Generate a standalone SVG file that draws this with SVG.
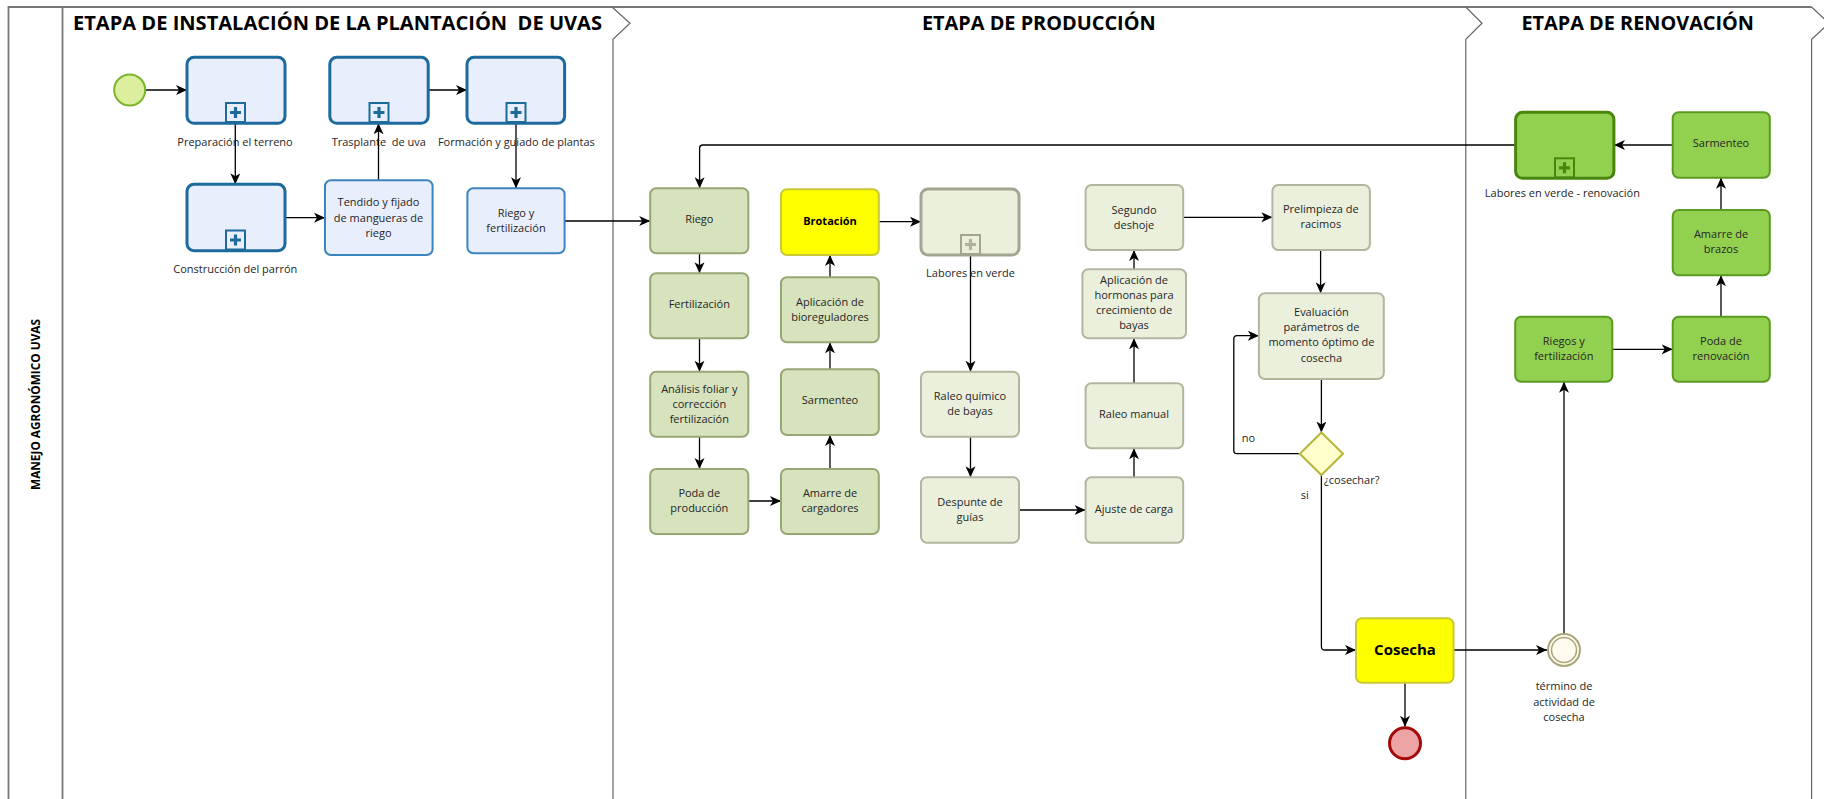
<svg xmlns="http://www.w3.org/2000/svg" width="1824" height="799" viewBox="0 0 1824 799">
<style>
text{font-family:"Open Sans","Noto Sans","Liberation Sans",sans-serif;fill:#262626;font-size:11px;text-anchor:middle}
.title{font-size:20px;font-weight:bold;fill:#000;text-anchor:start}
.pool{font-size:12px;font-weight:bold;fill:#000}
.b{font-weight:bold;fill:#000}
.lbl{text-anchor:start}
.edge{fill:none;stroke:#000;stroke-width:1.3;marker-end:url(#arr)}
.sp-blue{fill:#e9eefc;stroke:#1d6b9c;stroke-width:3}
.t-blue{fill:#e9eefc;stroke:#3c84bd;stroke-width:2}
.t-sage{fill:#d7e3bd;stroke:#98a574;stroke-width:2}
.t-lsage{fill:#ebf0dd;stroke:#b2b69e;stroke-width:2}
.sp-lsage{fill:#ebf0dd;stroke:#a2a690;stroke-width:3}
.t-yel{fill:#ffff00;stroke:#c9c934;stroke-width:2}
.t-grn{fill:#92d050;stroke:#5b9a22;stroke-width:2}
.sp-grn{fill:#92d050;stroke:#4a860e;stroke-width:3}
.lane{fill:none;stroke:#777;stroke-width:1.8}
.phase{fill:none;stroke:#666;stroke-width:1.2}
</style>
<defs>
<marker id="arr" markerUnits="userSpaceOnUse" markerWidth="12" markerHeight="11" refX="11" refY="5" orient="auto">
<path d="M0,0 L11,5 L0,10 L3,5 Z" fill="#000"/>
</marker>
<g id="mk-blue">
<rect x="-9.5" y="-19" width="19" height="19" fill="#e9eefc" stroke="#1d6b9c" stroke-width="2"/>
<path d="M0,-15 V-4 M-5.5,-9.5 H5.5" stroke="#1d6b9c" stroke-width="3.2"/>
</g>
<g id="mk-gray">
<rect x="-9.5" y="-19" width="19" height="19" fill="#ebf0dd" stroke="#a2a690" stroke-width="2"/>
<path d="M0,-15 V-4 M-5.5,-9.5 H5.5" stroke="#b0b3a0" stroke-width="3.2"/>
</g>
<g id="mk-grn">
<rect x="-9.5" y="-19" width="19" height="19" fill="#92d050" stroke="#4a860e" stroke-width="2"/>
<path d="M0,-15 V-4 M-5.5,-9.5 H5.5" stroke="#4a860e" stroke-width="3.2"/>
</g>
</defs>
<rect width="1824" height="799" fill="#fff"/>

<g id="pool">
<path class="lane" d="M8.5,799 V7 H1811.6"/>
<path class="lane" d="M62.5,7 V799"/>
<text class="pool" transform="translate(39.5,404.5) rotate(-90)" textLength="171" lengthAdjust="spacingAndGlyphs">MANEJO AGRONÓMICO UVAS</text>
</g>
<g id="phases">
<path class="phase" d="M612,7 L630,23.3 L613,39.3 V799"/>
<path class="phase" d="M1465.8,7 L1482,23.3 L1465.8,39.3 V799"/>
<path class="phase" d="M1811.6,7 L1829,23.3 L1811.6,39.3 V799"/>
<text class="title" x="73" y="29.5" textLength="529" lengthAdjust="spacingAndGlyphs" xml:space="preserve">ETAPA DE INSTALACIÓN DE LA PLANTACIÓN  DE UVAS</text>
<text class="title" x="922" y="29.5" textLength="233.6" lengthAdjust="spacingAndGlyphs">ETAPA DE PRODUCCIÓN</text>
<text class="title" x="1521.5" y="29.5" textLength="232.5" lengthAdjust="spacingAndGlyphs">ETAPA DE RENOVACIÓN</text>
</g>

<g id="connectors">
<path class="edge" d="M146,90 H187"/>
<path class="edge" d="M235.3,121 V184.3"/>
<path class="edge" d="M285,217.7 H325"/>
<path class="edge" d="M378.5,180.3 V123.3"/>
<path class="edge" d="M428.2,90 H467"/>
<path class="edge" d="M516,121 V188.3"/>
<path class="edge" d="M564.6,221 H650.2"/>
<path class="edge" d="M699.5,253.3 V273.3"/>
<path class="edge" d="M699.5,338.3 V371.7"/>
<path class="edge" d="M699.5,436.7 V469"/>
<path class="edge" d="M748.3,501 H781"/>
<path class="edge" d="M830,469 V435"/>
<path class="edge" d="M830,369.3 V342.3"/>
<path class="edge" d="M830,277.3 V255"/>
<path class="edge" d="M878.8,221.7 H921"/>
<path class="edge" d="M970.5,253 V371.7"/>
<path class="edge" d="M970.5,436.7 V477.3"/>
<path class="edge" d="M1019,510 H1085.6"/>
<path class="edge" d="M1134,477.3 V448.3"/>
<path class="edge" d="M1134,383.3 V338.3"/>
<path class="edge" d="M1134,269.3 V250"/>
<path class="edge" d="M1183.2,217.3 H1272.4"/>
<path class="edge" d="M1320.6,250 V293.3"/>
<path class="edge" d="M1321.4,379 V432.5"/>
<path class="edge" d="M1299.8,453.7 H1237 Q1233.8,453.7 1233.8,450.5 V339 Q1233.8,335.7 1237,335.7 H1258.9"/>
<path class="edge" d="M1321.4,475 V646.5 Q1321.4,650 1325,650 H1356"/>
<path class="edge" d="M1453.5,650 H1547"/>
<path class="edge" d="M1405,682.7 V726.7"/>
<path class="edge" d="M1564,633 V381.7"/>
<path class="edge" d="M1612.3,349.3 H1672.7"/>
<path class="edge" d="M1721,316.7 V275.3"/>
<path class="edge" d="M1721,210 V177.7"/>
<path class="edge" d="M1672.7,145 H1614"/>
<path class="edge" d="M1515.6,145 H703 Q699.6,145 699.6,148.5 V188.3"/>
<text class="lbl" x="1241.8" y="442.3">no</text>
<text class="lbl" x="1300.7" y="499">si</text>
</g>

<g id="start">
<circle cx="129.7" cy="90" r="15.5" fill="#dcef9e" stroke="#7ab52a" stroke-width="2"/>
</g>
<g id="preparacion">
<rect class="sp-blue" x="187" y="57.3" width="98" height="66" rx="7"/>
<use href="#mk-blue" x="235.5" y="122"/>
<text x="235" y="146">Preparación el terreno</text>
</g>
<g id="construccion">
<rect class="sp-blue" x="187" y="184.3" width="98" height="66.4" rx="7"/>
<use href="#mk-blue" x="235.5" y="249.5"/>
<text x="235.3" y="273">Construcción del parrón</text>
</g>
<g id="tendido">
<rect class="t-blue" x="325" y="180.3" width="107.6" height="74.7" rx="6"/>
<text x="378.5" y="206">Tendido y fijado</text>
<text x="378.5" y="221.5">de mangueras de</text>
<text x="378.5" y="236.5">riego</text>
</g>
<g id="trasplante">
<rect class="sp-blue" x="329.8" y="57.3" width="98.4" height="66" rx="7"/>
<use href="#mk-blue" x="379" y="122"/>
<text x="378.8" y="146" xml:space="preserve">Trasplante  de uva</text>
</g>
<g id="formacion">
<rect class="sp-blue" x="467" y="57.3" width="97.6" height="66" rx="7"/>
<use href="#mk-blue" x="516" y="122"/>
<text x="516.4" y="146">Formación y guiado de plantas</text>
</g>
<g id="riego-fert-inst">
<rect class="t-blue" x="467.4" y="188.3" width="97.2" height="65" rx="6"/>
<text x="516" y="216.7">Riego y</text>
<text x="516" y="231.7">fertilización</text>
</g>

<g id="riego">
<rect class="t-sage" x="650.2" y="188.3" width="98.1" height="65" rx="6"/>
<text x="699.3" y="223">Riego</text>
</g>
<g id="fertilizacion">
<rect class="t-sage" x="650.2" y="273.3" width="98.1" height="65" rx="6"/>
<text x="699.3" y="308.3">Fertilización</text>
</g>
<g id="analisis">
<rect class="t-sage" x="650.2" y="371.7" width="98.1" height="65" rx="6"/>
<text x="699.3" y="392.5">Análisis foliar y</text>
<text x="699.3" y="407.5">corrección</text>
<text x="699.3" y="422.5">fertilización</text>
</g>
<g id="poda-produccion">
<rect class="t-sage" x="650.2" y="469" width="98.1" height="65" rx="6"/>
<text x="699.3" y="497.3">Poda de</text>
<text x="699.3" y="512.3">producción</text>
</g>
<g id="amarre-cargadores">
<rect class="t-sage" x="781" y="469" width="97.8" height="65" rx="6"/>
<text x="830" y="497.3">Amarre de</text>
<text x="830" y="512.3">cargadores</text>
</g>
<g id="sarmenteo-prod">
<rect class="t-sage" x="781" y="369.3" width="97.8" height="65.7" rx="6"/>
<text x="830" y="404.3">Sarmenteo</text>
</g>
<g id="bioreguladores">
<rect class="t-sage" x="781" y="277.3" width="97.8" height="65" rx="6"/>
<text x="830" y="306">Aplicación de</text>
<text x="830" y="321">bioreguladores</text>
</g>
<g id="brotacion">
<rect class="t-yel" x="781" y="189.3" width="97.8" height="65.7" rx="6"/>
<text class="b" x="830" y="224.7">Brotación</text>
</g>
<g id="labores-verde">
<rect class="sp-lsage" x="921" y="189" width="98" height="66" rx="7"/>
<use href="#mk-gray" x="970.5" y="254"/>
<text x="970.5" y="277">Labores en verde</text>
</g>
<g id="raleo-quimico">
<rect class="t-lsage" x="921" y="371.7" width="98" height="65" rx="6"/>
<text x="970" y="400">Raleo químico</text>
<text x="970" y="415">de bayas</text>
</g>
<g id="despunte">
<rect class="t-lsage" x="921" y="477.3" width="98" height="65.4" rx="6"/>
<text x="970" y="506">Despunte de</text>
<text x="970" y="521">guías</text>
</g>
<g id="ajuste">
<rect class="t-lsage" x="1085.6" y="477.3" width="97.6" height="65.4" rx="6"/>
<text x="1134" y="512.7">Ajuste de carga</text>
</g>
<g id="raleo-manual">
<rect class="t-lsage" x="1085.6" y="383.3" width="97.6" height="65" rx="6"/>
<text x="1134" y="418.3">Raleo manual</text>
</g>
<g id="hormonas">
<rect class="t-lsage" x="1082.4" y="269.3" width="103.6" height="69" rx="6"/>
<text x="1134" y="284">Aplicación de</text>
<text x="1134" y="299">hormonas para</text>
<text x="1134" y="314">crecimiento de</text>
<text x="1134" y="329">bayas</text>
</g>
<g id="segundo-deshoje">
<rect class="t-lsage" x="1085.6" y="185" width="97.6" height="65" rx="6"/>
<text x="1134" y="213.5">Segundo</text>
<text x="1134" y="228.5">deshoje</text>
</g>
<g id="prelimpieza">
<rect class="t-lsage" x="1272.4" y="185" width="97.5" height="65" rx="6"/>
<text x="1320.8" y="213.3">Prelimpieza de</text>
<text x="1320.8" y="228.3">racimos</text>
</g>
<g id="evaluacion">
<rect class="t-lsage" x="1258.9" y="293.3" width="124.9" height="85.7" rx="6"/>
<text x="1321.4" y="316">Evaluación</text>
<text x="1321.4" y="331">parámetros de</text>
<text x="1321.4" y="346">momento óptimo de</text>
<text x="1321.4" y="361.5">cosecha</text>
</g>
<g id="gateway">
<path d="M1321.4,432.5 L1343,453.7 L1321.4,475 L1299.8,453.7 Z" fill="#ffffcc" stroke="#b7b53a" stroke-width="2"/>
<text class="lbl" x="1324" y="484">¿cosechar?</text>
</g>
<g id="cosecha">
<rect class="t-yel" x="1356" y="618.3" width="97.5" height="64.4" rx="6"/>
<text class="b" x="1405" y="655" style="font-size:15px">Cosecha</text>
</g>
<g id="fin">
<circle cx="1405" cy="743.3" r="15.5" fill="#eba3a4" stroke="#a30b0b" stroke-width="3"/>
</g>
<g id="termino">
<circle cx="1564" cy="650" r="16" fill="#fffaee" stroke="#aaa67a" stroke-width="2"/>
<circle cx="1564" cy="650" r="12.5" fill="none" stroke="#aaa67a" stroke-width="1.5"/>
<text x="1564" y="690">término de</text>
<text x="1564" y="705.5">actividad de</text>
<text x="1564" y="720.5">cosecha</text>
</g>

<g id="labores-renov">
<rect class="sp-grn" x="1515.6" y="112.3" width="98.3" height="66" rx="7"/>
<use href="#mk-grn" x="1564.5" y="177.3"/>
<text x="1562.4" y="196.7">Labores en verde - renovación</text>
</g>
<g id="sarmenteo-renov">
<rect class="t-grn" x="1672.7" y="112.3" width="97.1" height="65.4" rx="6"/>
<text x="1721" y="147.3">Sarmenteo</text>
</g>
<g id="amarre-brazos">
<rect class="t-grn" x="1672.7" y="210" width="97.1" height="65.3" rx="6"/>
<text x="1721" y="238.3">Amarre de</text>
<text x="1721" y="253.3">brazos</text>
</g>
<g id="poda-renov">
<rect class="t-grn" x="1672.7" y="316.7" width="97.1" height="65" rx="6"/>
<text x="1721" y="345">Poda de</text>
<text x="1721" y="360">renovación</text>
</g>
<g id="riegos-renov">
<rect class="t-grn" x="1515.2" y="316.7" width="97.1" height="65" rx="6"/>
<text x="1563.8" y="345">Riegos y</text>
<text x="1563.8" y="360">fertilización</text>
</g>
</svg>
